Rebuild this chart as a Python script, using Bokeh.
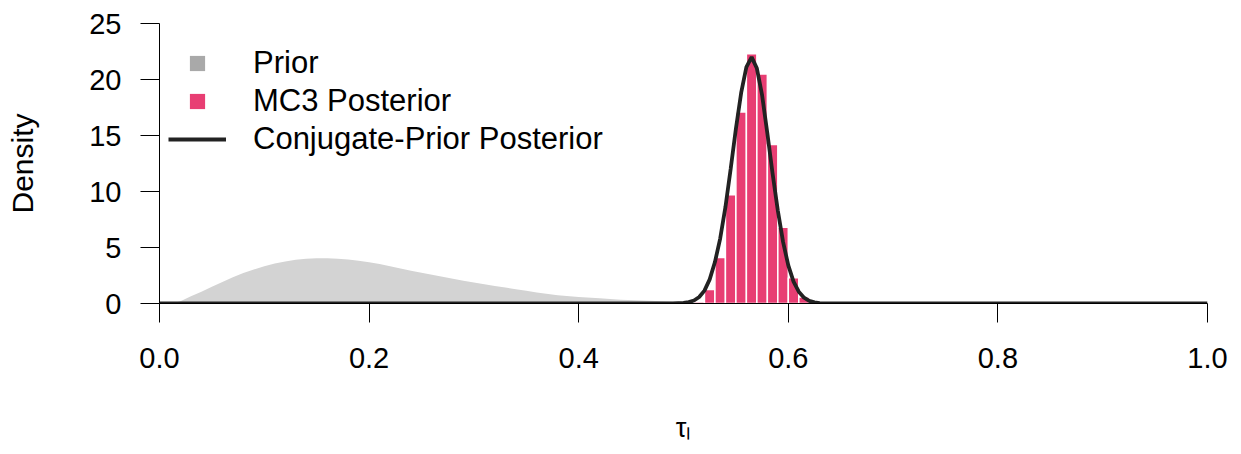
from bokeh.plotting import figure
from bokeh.models import Range1d, FixedTicker, Legend, LegendItem, PrintfTickFormatter
from bokeh.embed import file_html
from bokeh.resources import INLINE

# ---------------- data ----------------
prior_x = [0.0, 0.012, 0.02, 0.03, 0.04, 0.05, 0.06, 0.07, 0.08, 0.09, 0.10,
           0.11, 0.12, 0.13, 0.14, 0.15, 0.16, 0.17, 0.18, 0.19, 0.20,
           0.21, 0.22, 0.23, 0.24, 0.25, 0.26, 0.27, 0.28, 0.29, 0.30,
           0.31, 0.32, 0.33, 0.34, 0.35, 0.36, 0.38, 0.40, 0.42, 0.44,
           0.46, 0.48, 0.50, 0.52, 0.55, 0.60, 0.65, 1.0]
prior_y = [0.0, 0.0, 0.2, 0.65, 1.05, 1.5, 1.92, 2.35, 2.72, 3.03, 3.33,
           3.57, 3.76, 3.9, 3.99, 4.04, 4.05, 4.0, 3.92, 3.82, 3.68,
           3.52, 3.32, 3.12, 2.93, 2.74, 2.56, 2.38, 2.21, 2.04, 1.88,
           1.72, 1.57, 1.42, 1.28, 1.13, 0.98, 0.74, 0.58, 0.46, 0.34,
           0.27, 0.2, 0.14, 0.08, 0.03, 0.01, 0.0, 0.0]

post_x = [0.0, 0.48, 0.49, 0.50, 0.505, 0.51, 0.515, 0.52, 0.525, 0.53, 0.535,
          0.54, 0.545, 0.55, 0.555, 0.56, 0.565, 0.57, 0.575, 0.58, 0.585,
          0.59, 0.595, 0.60, 0.605, 0.61, 0.615, 0.62, 0.625, 0.63, 0.64, 1.0]
post_y = [0.0, 0.0, 0.01, 0.05, 0.12, 0.27, 0.58, 1.15, 2.15, 3.7, 5.8,
          8.6, 12.0, 15.6, 18.8, 21.1, 22.0, 21.0, 18.6, 15.2, 11.6,
          8.3, 5.5, 3.4, 1.95, 1.05, 0.52, 0.24, 0.1, 0.04, 0.0, 0.0]

hist_left = [0.51, 0.52, 0.53, 0.54, 0.55, 0.56, 0.57, 0.58, 0.59, 0.60, 0.61]
hist_right = [0.52, 0.53, 0.54, 0.55, 0.56, 0.57, 0.58, 0.59, 0.60, 0.61, 0.62]
hist_density = [0.16, 1.25, 4.1, 9.7, 17.1, 22.3, 20.5, 14.2, 6.8, 2.3, 0.58]

x_ticks = [0.0, 0.2, 0.4, 0.6, 0.8, 1.0]
y_ticks = [0, 5, 10, 15, 20, 25]
legend_labels = ["Prior", "MC3 Posterior", "Conjugate-Prior Posterior"]
x_title = "τ\u2097"   # tau with subscript l
y_title = "Density"

FONT = "Liberation Sans"
PINK = "#E83E73"
PRIOR_FILL = "#D3D3D3"
PRIOR_KEY = "#A9A9A9"
CURVE = "#222222"
NAN = float("nan")

p = figure(width=1235, height=454, output_backend="svg", toolbar_location=None,
           x_range=Range1d(0, 1), y_range=Range1d(0, 25),
           min_border_left=159, min_border_right=28,
           min_border_top=23, min_border_bottom=151)
p.outline_line_color = None
p.xgrid.visible = False
p.ygrid.visible = False
p.background_fill_color = "white"
p.border_fill_color = "white"

# prior density (filled)
p.varea(x=prior_x, y1=0, y2=prior_y, fill_color=PRIOR_FILL)
# MC3 posterior histogram
p.quad(left=hist_left, right=hist_right, bottom=0, top=hist_density,
       fill_color=PINK, line_color="white", line_width=1.5)
# conjugate-prior posterior curve
curve = p.line(post_x, post_y, line_color=CURVE, line_width=3.8)

# legend keys (renderers with no visible point, used only for the legend squares)
k1 = p.scatter(x=[NAN], y=[NAN], marker="square", size=14,
               fill_color=PRIOR_KEY, line_color=None)
k2 = p.scatter(x=[NAN], y=[NAN], marker="square", size=14,
               fill_color=PINK, line_color=None)
legend = Legend(items=[LegendItem(label=legend_labels[0], renderers=[k1]),
                       LegendItem(label=legend_labels[1], renderers=[k2]),
                       LegendItem(label=legend_labels[2], renderers=[curve])],
                location=(9, 145), glyph_width=58, glyph_height=38, label_height=38,
                label_standoff=27, spacing=0, padding=0, margin=0,
                border_line_color=None, background_fill_alpha=0,
                label_text_font=FONT, label_text_font_size="31px",
                label_text_color="black")
p.add_layout(legend)

for ax in (p.xaxis, p.yaxis):
    ax.axis_line_color = "black"
    ax.axis_line_width = 1
    ax.major_tick_line_color = "black"
    ax.major_tick_line_width = 1
    ax.major_tick_out = 19
    ax.major_tick_in = 0
    ax.minor_tick_line_color = None
    ax.major_label_text_font = FONT
    ax.major_label_text_font_size = "29px"
    ax.major_label_text_color = "black"
    ax.axis_label_text_font = FONT
    ax.axis_label_text_font_style = "normal"
    ax.axis_label_text_color = "black"

p.xaxis.ticker = FixedTicker(ticks=x_ticks)
p.xaxis.formatter = PrintfTickFormatter(format="%.1f")
p.xaxis.major_label_standoff = 25
p.xaxis.axis_label = x_title
p.xaxis.axis_label_text_font_size = "27px"
p.xaxis.axis_label_standoff = 42

p.yaxis.ticker = FixedTicker(ticks=y_ticks)
p.yaxis.major_label_standoff = 19
p.yaxis.major_label_orientation = "horizontal"
p.yaxis.axis_label = y_title
p.yaxis.axis_label_text_font_size = "30px"
p.yaxis.axis_label_standoff = 47

open("out.html", "w").write(file_html(p, INLINE))
